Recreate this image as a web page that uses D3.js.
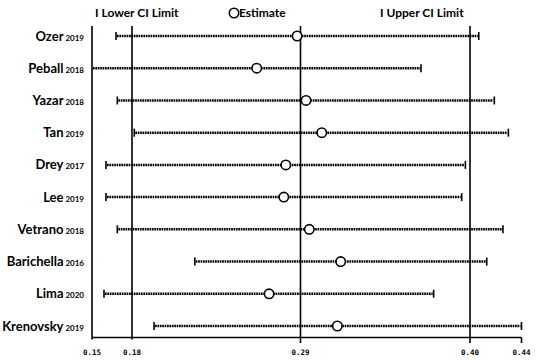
<!DOCTYPE html>
<html>
<head>
<meta charset="utf-8">
<script src="https://cdn.jsdelivr.net/npm/d3@7"></script>
<style>
  body { margin: 0; background: #fff; }
  svg { display: block; }
</style>
</head>
<body>
<div class="div-chart"></div>
<script>
const studies = ['Ozer', 'Peball', 'Yazar', 'Tan', 'Drey', 'Lee', 'Vetrano', 'Barichella', 'Lima', 'Krenovsky'];
const years = ['2019', '2018', '2018', '2019', '2017', '2019', '2018', '2016', '2020', '2019'];
const lower = [0.168, 0.148, 0.169, 0.1815, 0.1605, 0.1605, 0.169, 0.221, 0.159, 0.1944];
const estimate = [0.2878, 0.2614, 0.2936, 0.3038, 0.2804, 0.2791, 0.2957, 0.3161, 0.2695, 0.3139];
const upper = [0.4068, 0.3682, 0.4189, 0.4298, 0.397, 0.3946, 0.4256, 0.413, 0.3764, 0.44];
const tickValues = [0.15, 0.18, 0.29, 0.40, 0.44];
const refLines = [0.15, 0.18, 0.29, 0.40];

const data = studies.map((s, i) => ({
    name: s, year: years[i], lo: lower[i], est: estimate[i], hi: upper[i]
}));

const width = 536, height = 360;

const svg = d3.select('.div-chart')
    .append('svg')
    .attr('width', width)
    .attr('height', height);

// axis in the source is not evenly spaced, so use a piecewise scale
const x = d3.scaleLinear()
    .domain(tickValues)
    .range([92, 132, 300.5, 470, 521.5])
    .clamp(true);

const y = d3.scalePoint()
    .domain(studies)
    .range([36, 326]);

const axisY = 337.5;

// reference lines
svg.selectAll('.ref')
    .data(refLines)
    .enter().append('line')
    .attr('x1', d => x(d)).attr('x2', d => x(d))
    .attr('y1', 26).attr('y2', axisY)
    .attr('stroke', '#000')
    .attr('stroke-width', 1.6);

// CI lines
const rows = svg.selectAll('.row')
    .data(data)
    .enter().append('g')
    .attr('transform', d => `translate(0,${y(d.name)})`);

rows.append('line')
    .attr('x1', d => x(d.lo) + 1).attr('x2', d => x(d.hi) - 1)
    .attr('stroke', '#000')
    .attr('stroke-width', 2.5)
    .attr('stroke-dasharray', '1.7,0.7');

rows.filter(d => d.lo >= 0.15).append('line')
    .attr('x1', d => x(d.lo)).attr('x2', d => x(d.lo))
    .attr('y1', -4).attr('y2', 4)
    .attr('stroke', '#000').attr('stroke-width', 1.6);

rows.append('line')
    .attr('x1', d => x(d.hi)).attr('x2', d => x(d.hi))
    .attr('y1', -4).attr('y2', 4)
    .attr('stroke', '#000').attr('stroke-width', 1.6);

rows.append('circle')
    .attr('cx', d => x(d.est))
    .attr('r', 4.7)
    .attr('fill', '#fff')
    .attr('stroke', '#000')
    .attr('stroke-width', 1.6);

// labels
const lab = rows.append('text')
    .attr('x', 84)
    .attr('y', 4.5)
    .attr('text-anchor', 'end')
    .style('font-family', 'Lato, sans-serif')
    .style('font-weight', 'bold')
    .style('font-size', '13px');
lab.append('tspan').text(d => d.name);
lab.append('tspan').text(d => ' ' + d.year).style('font-size', '8px');

// x axis
svg.append('line')
    .attr('x1', x(0.15)).attr('x2', x(0.44))
    .attr('y1', axisY).attr('y2', axisY)
    .attr('stroke', '#000').attr('stroke-width', 1.6);

svg.selectAll('.tick')
    .data(tickValues)
    .enter().append('line')
    .attr('x1', d => x(d)).attr('x2', d => x(d))
    .attr('y1', axisY).attr('y2', d => d === 0.15 || d === 0.18 ? axisY + 2 : axisY + 5.5)
    .attr('stroke', '#000').attr('stroke-width', 1.6);

svg.selectAll('.tlab')
    .data(tickValues)
    .enter().append('text')
    .attr('x', d => x(d))
    .attr('y', 355)
    .attr('text-anchor', 'middle')
    .style('font-family', '"DejaVu Sans Mono", monospace')
    .style('font-weight', 'bold')
    .style('font-size', '7.5px')
    .text(d => d.toFixed(2));

// legend
const legFont = g => g.style('font-family', 'Lato, sans-serif')
    .style('font-weight', 'bold').style('font-size', '12px');

svg.append('text').attr('x', 95).attr('y', 17).call(legFont).text('I Lower CI Limit');
svg.append('circle').attr('cx', 234).attr('cy', 13).attr('r', 4.7)
    .attr('fill', 'none').attr('stroke', '#000').attr('stroke-width', 1.6);
svg.append('text').attr('x', 239).attr('y', 17).call(legFont).text('Estimate');
svg.append('text').attr('x', 380).attr('y', 17).call(legFont).text('I Upper CI Limit');
</script>
</body>
</html>
